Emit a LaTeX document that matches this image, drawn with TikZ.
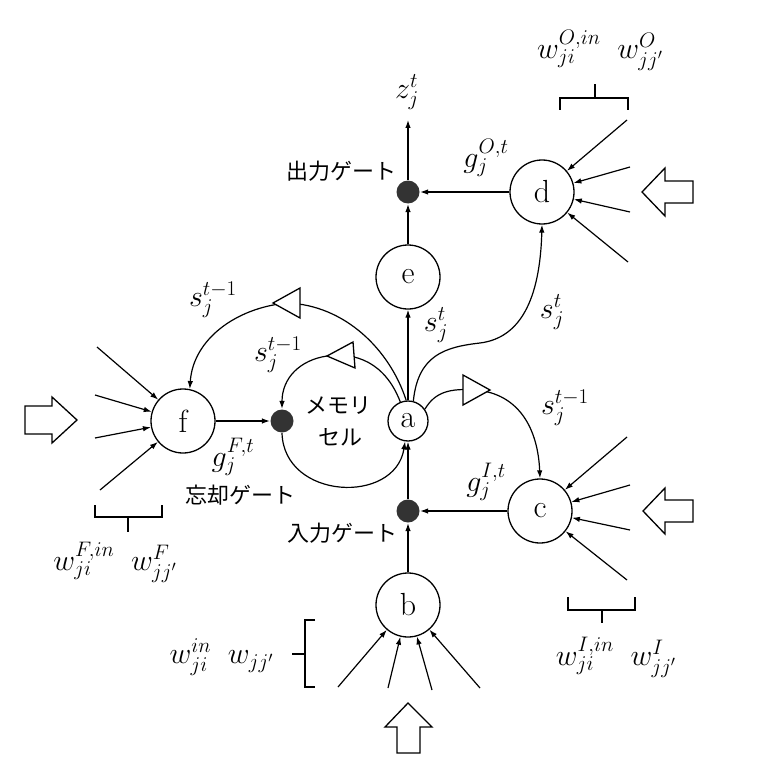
\RequirePackage{fix-cm}
\documentclass[tikz,border=0pt]{standalone}
\usepackage{fontspec}
\newfontfamily\jp{Noto Sans CJK JP}
\DeclareMathSizes{30}{30}{21}{15}
\usetikzlibrary{arrows.meta}
\begin{document}
\begin{tikzpicture}[x=1pt,y=-1pt,
  line width=1.2pt,
  every node/.style={font=\fontsize{30}{34}\selectfont},
  unit/.style={circle,draw,minimum size=64pt,inner sep=0pt,line width=1.3pt,font=\fontsize{32}{36}\selectfont},
  small unit/.style={circle,draw,minimum size=40pt,inner sep=0pt,line width=1.3pt,font=\fontsize{32}{36}\selectfont},
  gate/.style={circle,fill=black!80,minimum size=23pt,inner sep=0pt},
  conn/.style={-{Latex[length=8pt,width=5.5pt]}},
  bigarrow/.style={draw,fill=white,line width=1.3pt,line join=miter},
  hollowtri/.style={draw,fill=white,line width=1.3pt,line join=miter},
  brace/.style={draw,line width=1.2pt},
  lab/.style={inner sep=0pt},
  jlab/.style={inner sep=0pt,font=\jp\fontsize{22}{26}\selectfont}
]
\useasboundingbox (0,0) rectangle (756,762);

% units
\node[unit] (e) at (408,277) {e};
\node[unit] (d) at (542,192) {d};
\node[small unit] (a) at (408,421) {a};
\node[unit] (f) at (183,421) {f};
\node[unit] (c) at (540,511) {c};
\node[unit] (b) at (408,605) {b};
\node[gate] (og) at (408,192) {};
\node[gate] (fg) at (282,421) {};
\node[gate] (ig) at (408,511) {};

% main straight connectors
\coordinate (zt) at (408,120);
\draw[conn] (og) -- (zt);
\draw[conn] (e) -- (og);
\draw[conn] (a) -- (e);
\draw[conn] (ig) -- (a);
\draw[conn] (b) -- (ig);
\draw[conn] (c) -- (ig);
\draw[conn] (d) -- (og);
\draw[conn] (f) -- (fg);

% recurrent curves
\draw[conn] (a.95) .. controls (390,350) and (345,305) .. (287,303) .. controls (235,308) and (193,340) .. (f.78);
\draw[hollowtri] (273,303) -- (300,288) -- (300,318) -- cycle;

\draw[conn] (a.112) .. controls (385,362) and (355,352) .. (327,356) .. controls (300,360) and (282,378) .. (fg.north);
\draw[hollowtri] (327,356) -- (353,342) -- (355,368) -- cycle;

\draw[conn] (fg.south) .. controls (284,500) and (395,505) .. (a.262);

\draw[conn] (a.75) .. controls (418,355) and (445,347) .. (480,343) .. controls (520,338) and (540,300) .. (d.south);

\draw[conn] (a.35) .. controls (435,392) and (450,388) .. (476,390) .. controls (520,394) and (538,430) .. (c.north);
\draw[hollowtri] (490,390) -- (463,375) -- (463,405) -- cycle;

% external inputs
\foreach \x/\y [count=\i] in {627/120,630/167,630/212,628/262} {
  \coordinate (din\i) at (\x,\y); \draw[conn] (din\i) -- (d);
}
\foreach \x/\y [count=\i] in {627/437,630/485,630/530,627/580} {
  \coordinate (cin\i) at (\x,\y); \draw[conn] (cin\i) -- (c);
}
\foreach \x/\y [count=\i] in {97/347,95/395,95/438,100/490} {
  \coordinate (fin\i) at (\x,\y); \draw[conn] (fin\i) -- (f);
}
\foreach \x/\y [count=\i] in {338/687,388/688,432/690,480/688} {
  \coordinate (bin\i) at (\x,\y); \draw[conn] (bin\i) -- (b);
}

% big hollow arrows
\draw[bigarrow] (642,192) -- (665,168) -- (665,181) -- (693,181) -- (693,203) -- (665,203) -- (665,216) -- cycle;
\draw[bigarrow] (643,511) -- (665,488) -- (665,500) -- (693,500) -- (693,522) -- (665,522) -- (665,534) -- cycle;
\draw[bigarrow] (77,420) -- (52,397) -- (52,406) -- (25,406) -- (25,434) -- (52,434) -- (52,443) -- cycle;
\draw[bigarrow] (408,703) -- (385,727) -- (397,727) -- (397,753) -- (420,753) -- (420,727) -- (432,727) -- cycle;

% braces
\draw[brace] (560,110) -- (560,98) -- (628,98) -- (628,110);
\draw[brace] (595,98) -- (595,84);
\draw[brace] (95,505) -- (95,517) -- (162,517) -- (162,505);
\draw[brace] (128,517) -- (128,532);
\draw[brace] (568,597) -- (568,610) -- (635,610) -- (635,597);
\draw[brace] (602,610) -- (602,623);
\draw[brace] (315,620) -- (305,620) -- (305,687) -- (315,687);
\draw[brace] (305,654) -- (292,654);

% labels
\node[lab] (lz) at (407,92) {$z_j^t$};
\node[jlab] (lout) at (341,171) {出力ゲート};
\node[lab] (lgo) at (486,158) {$g_j^{O,t}$};
\node[lab] (lwo) at (600,50) {$w_{ji}^{O,in}\;\; w_{jj'}^{O}$};
\node[lab] (lse) at (436,325) {$s_j^t$};
\node[lab] (lsd) at (552,312) {$s_j^t$};
\node[lab] (lsc) at (565,408) {$s_j^{t-1}$};
\node[lab] (lgi) at (486,482) {$g_j^{I,t}$};
\node[jlab] (lin) at (342,533) {入力ゲート};
\node[jlab] (lmem1) at (338,406) {メモリ};
\node[jlab] (lmem2) at (340,437) {セル};
\node[lab] (lsf) at (213,300) {$s_j^{t-1}$};
\node[lab] (lsl) at (278,355) {$s_j^{t-1}$};
\node[lab] (lgf) at (233,457) {$g_j^{F,t}$};
\node[jlab] (lforget) at (240,495) {忘却ゲート};
\node[lab] (lwf) at (115,562) {$w_{ji}^{F,in}\;\; w_{jj'}^{F}$};
\node[lab] (lwi) at (616,657) {$w_{ji}^{I,in}\;\; w_{jj'}^{I}$};
\node[lab,anchor=east] (lwb) at (274,657) {$w_{ji}^{in}\;\; w_{jj'}$};
\end{tikzpicture}
\end{document}
